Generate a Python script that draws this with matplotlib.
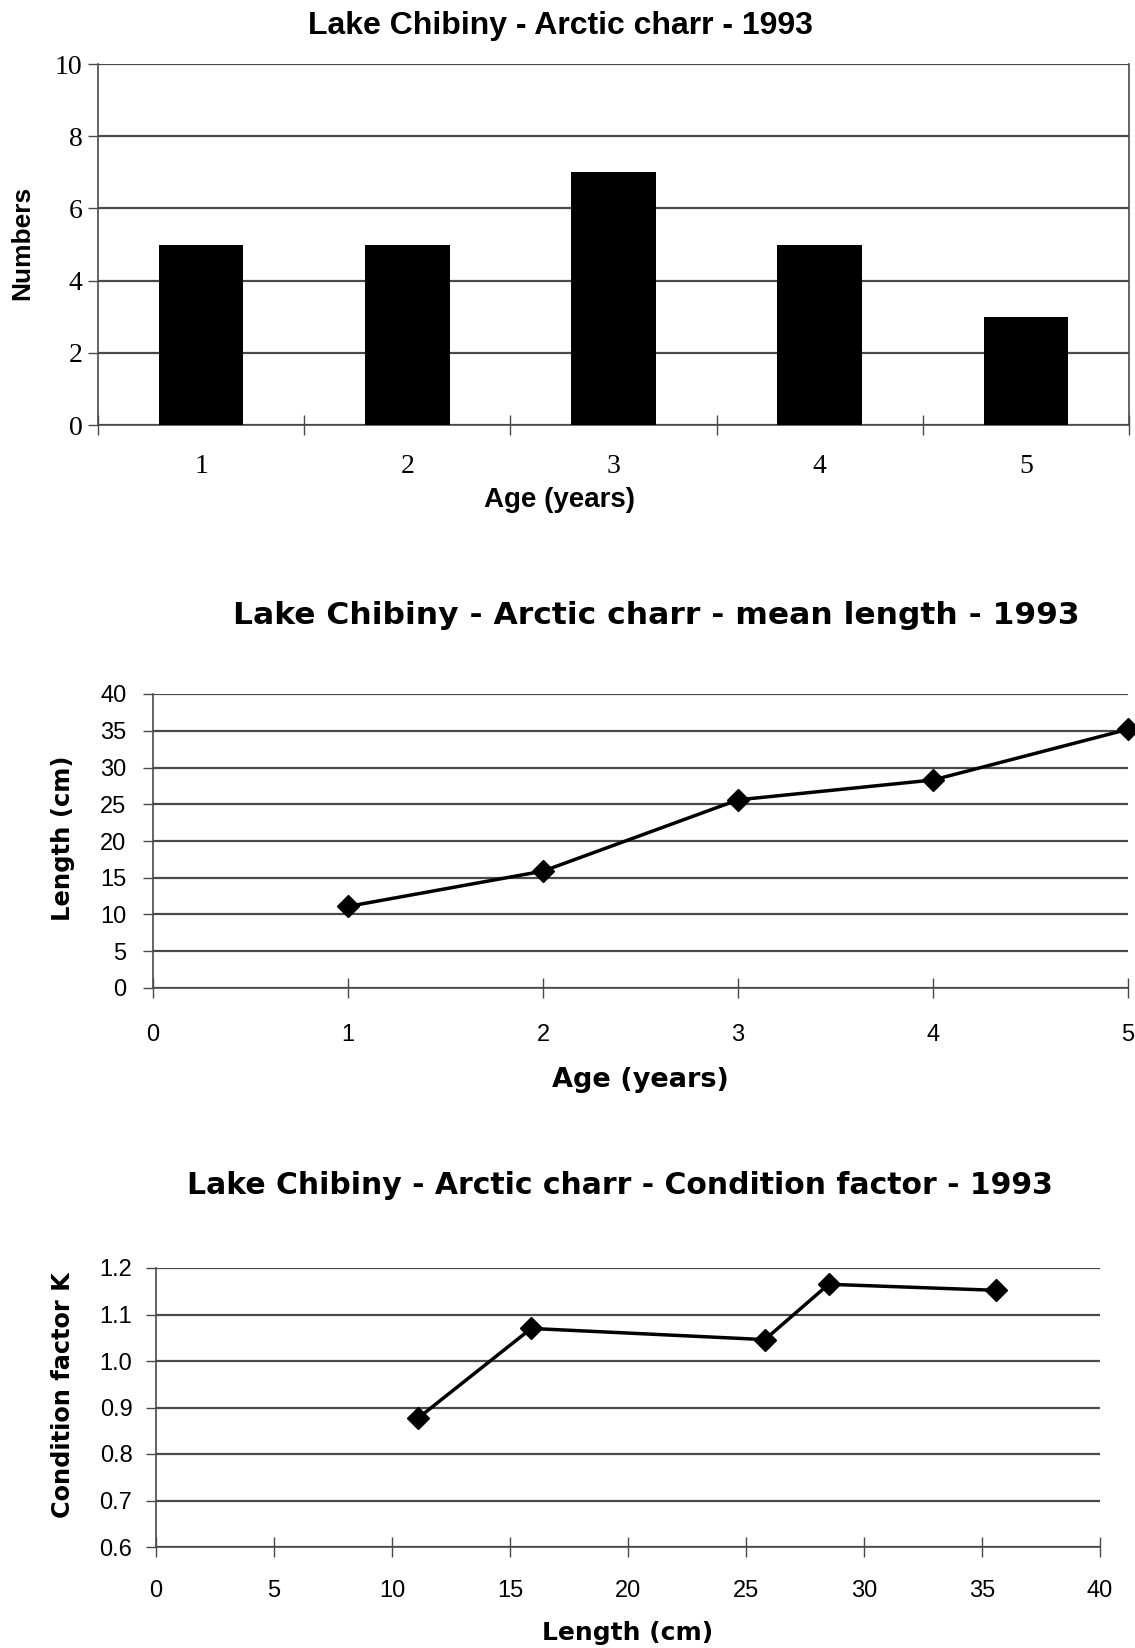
"""
Lake Chibiny - Arctic charr 1993: age distribution, mean length, condition factor.
Writes out.png.
"""

import matplotlib.pyplot as plt
import numpy as np

# ages and catch numbers (top panel)
AGES = [1, 2, 3, 4, 5]
NUMBERS = [5, 5, 7, 5, 3]

# mean length by age (middle panel)
MEAN_LENGTH = [11.1, 15.9, 25.6, 28.3, 35.2]

# condition factor against length (bottom panel)
K_LENGTH = [11.1, 15.9, 25.8, 28.5, 35.6]
K_VALUES = [0.877, 1.070, 1.046, 1.165, 1.152]

SANS = ["Liberation Sans", "DejaVu Sans"]
WIDE = ["DejaVu Sans"]
SERIF = ["Liberation Serif", "DejaVu Serif"]
GRID = "#4a4a4a"

W, H = 1135, 1648


def fx(px):
    return px / W


def fy(py):
    return 1 - py / H


def axes_box(left, top, right, bottom):
    return [fx(left), fy(bottom), fx(right) - fx(left), fy(top) - fy(bottom)]


def style_spines(ax, keep):
    for s in ("top", "right", "left", "bottom"):
        if s in keep:
            ax.spines[s].set_color(GRID)
            ax.spines[s].set_linewidth(1.2)
        else:
            ax.spines[s].set_visible(False)


def main() -> None:
    fig = plt.figure(figsize=(W / 100, H / 100), dpi=100)
    fig.patch.set_facecolor("white")

    # ---- panel 1: bar chart of numbers by age ----
    ax1 = fig.add_axes(axes_box(98, 64, 1129, 425))
    ax1.bar(AGES, NUMBERS, width=0.41, color="black", zorder=3)
    ax1.set_xlim(0.5, 5.5)
    ax1.set_ylim(0, 10)
    ax1.set_yticks(np.arange(0, 11, 2))
    ax1.yaxis.grid(True, color=GRID, linewidth=1.6, zorder=1)
    # category boundaries get the tick marks, centres get the labels
    ax1.set_xticks(np.arange(0.5, 6.0, 1.0))
    ax1.set_xticklabels([])
    ax1.set_xticks(AGES, minor=True)
    ax1.set_xticklabels([str(a) for a in AGES], minor=True, family=SERIF, fontsize=20)
    ax1.tick_params(axis="x", which="major", direction="inout", length=14, width=1, colors=GRID)
    ax1.tick_params(axis="x", which="minor", length=0, pad=21)
    ax1.tick_params(axis="y", direction="out", length=7, width=1, colors=GRID, pad=4)
    for lab in ax1.get_yticklabels():
        lab.set_family(SERIF)
        lab.set_fontsize(20)
        lab.set_color("black")
    for lab in ax1.get_xticklabels(minor=True):
        lab.set_color("black")
    style_spines(ax1, ("left", "bottom", "right"))
    ax1.set_xlabel("Age (years)", family=SANS, fontsize=20, fontweight="bold")
    ax1.xaxis.set_label_coords(fx(559), fy(487), transform=fig.transFigure)
    ax1.set_ylabel("Numbers", family=SANS, fontsize=19, fontweight="bold")
    ax1.yaxis.set_label_coords(fx(34), fy(243), transform=fig.transFigure)
    fig.text(fx(560), fy(26), "Lake Chibiny - Arctic charr - 1993", family=SANS,
             fontsize=23, fontweight="bold", ha="center", va="center")

    # ---- panel 2: mean length by age ----
    ax2 = fig.add_axes(axes_box(153, 694, 1128, 988))
    ax2.plot(AGES, MEAN_LENGTH, color="black", linewidth=2.5, marker="D",
             markersize=11, zorder=3, clip_on=False)
    ax2.set_xlim(0, 5)
    ax2.set_ylim(0, 40)
    ax2.set_xticks(np.arange(0, 6, 1))
    ax2.set_yticks(np.arange(0, 41, 5))
    ax2.yaxis.grid(True, color=GRID, linewidth=1.6, zorder=1)
    ax2.tick_params(axis="x", direction="inout", length=14, width=1, colors=GRID, pad=19,
                    labelsize=17, labelcolor="black")
    ax2.tick_params(axis="y", direction="out", length=7, width=1, colors=GRID, pad=12,
                    labelsize=17, labelcolor="black")
    for lab in ax2.get_xticklabels() + ax2.get_yticklabels():
        lab.set_family(SANS)
    style_spines(ax2, ("left", "bottom"))
    ax2.set_xlabel("Age (years)", family=WIDE, fontsize=19.5, fontweight="bold")
    ax2.xaxis.set_label_coords(fx(640), fy(1067), transform=fig.transFigure)
    ax2.set_ylabel("Length (cm)", family=WIDE, fontsize=17.5, fontweight="bold")
    ax2.yaxis.set_label_coords(fx(75), fy(838), transform=fig.transFigure)
    fig.text(fx(656), fy(616), "Lake Chibiny - Arctic charr - mean length - 1993", family=WIDE,
             fontsize=22.6, fontweight="bold", ha="center", va="center")

    # ---- panel 3: condition factor vs length ----
    ax3 = fig.add_axes(axes_box(156, 1268, 1100, 1547))
    ax3.plot(K_LENGTH, K_VALUES, color="black", linewidth=2.5, marker="D",
             markersize=11, zorder=3)
    ax3.set_xlim(0, 40)
    ax3.set_ylim(0.6, 1.2)
    ax3.set_xticks(np.arange(0, 41, 5))
    ax3.set_yticks(np.arange(0.6, 1.21, 0.1))
    ax3.set_yticklabels([f"{v:.1f}" for v in np.arange(0.6, 1.21, 0.1)])
    ax3.yaxis.grid(True, color=GRID, linewidth=1.6, zorder=1)
    ax3.tick_params(axis="x", direction="inout", length=14, width=1, colors=GRID, pad=17,
                    labelsize=17, labelcolor="black")
    ax3.tick_params(axis="y", direction="out", length=7, width=1, colors=GRID, pad=10,
                    labelsize=17, labelcolor="black")
    for lab in ax3.get_xticklabels() + ax3.get_yticklabels():
        lab.set_family(SANS)
    style_spines(ax3, ("left", "bottom"))
    ax3.set_xlabel("Length (cm)", family=WIDE, fontsize=18, fontweight="bold")
    ax3.xaxis.set_label_coords(fx(628), fy(1621), transform=fig.transFigure)
    ax3.set_ylabel("Condition factor K", family=WIDE, fontsize=17.3, fontweight="bold")
    ax3.yaxis.set_label_coords(fx(75), fy(1395), transform=fig.transFigure)
    fig.text(fx(620), fy(1186), "Lake Chibiny - Arctic charr - Condition factor - 1993",
             family=WIDE, fontsize=21.5, fontweight="bold", ha="center", va="center")

    fig.savefig("out.png", dpi=100, facecolor="white")
    plt.close(fig)


if __name__ == "__main__":
    main()
